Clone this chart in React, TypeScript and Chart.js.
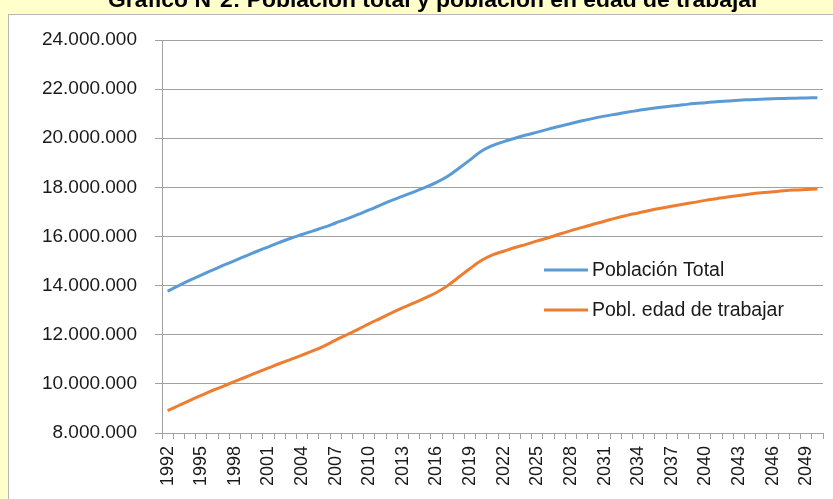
import React, { useEffect, useRef } from "react";
import { Chart, registerables } from "chart.js";

Chart.register(...registerables);

const TITLE = "Gráfico N°2: Población total y población en edad de trabajar";

const years: string[] = [
  "1992", "1993", "1994", "1995", "1996", "1997", "1998", "1999", "2000", "2001",
  "2002", "2003", "2004", "2005", "2006", "2007", "2008", "2009", "2010", "2011",
  "2012", "2013", "2014", "2015", "2016", "2017", "2018", "2019", "2020", "2021",
  "2022", "2023", "2024", "2025", "2026", "2027", "2028", "2029", "2030", "2031",
  "2032", "2033", "2034", "2035", "2036", "2037", "2038", "2039", "2040", "2041",
  "2042", "2043", "2044", "2045", "2046", "2047", "2048", "2049", "2050",
];

// values in millions of people
const poblacionTotal: number[] = [
  13.77, 14.0, 14.22, 14.43, 14.63, 14.83, 15.02, 15.21, 15.4, 15.58,
  15.76, 15.93, 16.08, 16.23, 16.38, 16.55, 16.72, 16.9, 17.08, 17.28,
  17.47, 17.64, 17.82, 18.0, 18.2, 18.45, 18.78, 19.12, 19.47, 19.7,
  19.86, 20.0, 20.13, 20.25, 20.37, 20.49, 20.6, 20.71, 20.81, 20.9,
  20.98, 21.06, 21.13, 21.2, 21.26, 21.31, 21.36, 21.41, 21.45, 21.49,
  21.52, 21.55, 21.57, 21.59, 21.61, 21.62, 21.63, 21.64, 21.65,
];

const poblEdadTrabajar: number[] = [
  8.91, 9.12, 9.33, 9.53, 9.73, 9.91, 10.1, 10.28, 10.47, 10.65,
  10.83, 11.0, 11.17, 11.35, 11.55, 11.78, 12.0, 12.22, 12.45, 12.67,
  12.89, 13.1, 13.3, 13.5, 13.72, 14.0, 14.35, 14.7, 15.02, 15.25,
  15.4, 15.55, 15.68, 15.82, 15.95, 16.1, 16.24, 16.37, 16.5, 16.62,
  16.75, 16.86, 16.96, 17.06, 17.15, 17.23, 17.31, 17.39, 17.47, 17.54,
  17.61, 17.67, 17.73, 17.78, 17.82, 17.86, 17.89, 17.91, 17.93,
];

const seriesNames = ["Población Total", "Pobl. edad de trabajar"];
const seriesColors = ["#5B9BD5", "#ED7D31"];

const yMin = 8000000;
const yMax = 24000000;
const yStep = 2000000;

const FONT = "'Liberation Sans', Arial, sans-serif";

function fmt(v: number): string {
  return Math.round(v).toString().replace(/\B(?=(\d{3})+(?!\d))/g, ".");
}

const framePlugin = {
  id: "frame",
  beforeDraw(chart: any) {
    const ctx = chart.ctx;
    ctx.save();
    ctx.fillStyle = "#FFFFCC";
    ctx.fillRect(0, 0, chart.width, chart.height);
    ctx.fillStyle = "#FFFFFF";
    ctx.fillRect(8, 14, chart.width + 10, chart.height + 10);
    ctx.strokeStyle = "#B8B8B8";
    ctx.lineWidth = 1;
    ctx.strokeRect(8.5, 14.5, chart.width + 10, chart.height + 10);
    // title
    ctx.fillStyle = "#000000";
    let size = 20;
    ctx.font = `bold ${size}px ${FONT}`;
    const w = ctx.measureText(TITLE).width;
    size = size * (652 / w);
    ctx.font = `bold ${size}px ${FONT}`;
    ctx.textAlign = "left";
    ctx.textBaseline = "alphabetic";
    ctx.fillText(TITLE, 108, 7);
    ctx.restore();
  },
};

const legendPlugin = {
  id: "insideLegend",
  afterDatasetsDraw(chart: any) {
    const ctx = chart.ctx;
    ctx.save();
    const rows = [270, 310];
    seriesNames.forEach((name, i) => {
      const y = rows[i];
      ctx.strokeStyle = seriesColors[i];
      ctx.lineWidth = 3;
      ctx.beginPath();
      ctx.moveTo(544, y);
      ctx.lineTo(588, y);
      ctx.stroke();
      ctx.fillStyle = "#1a1a1a";
      ctx.font = `19.5px ${FONT}`;
      ctx.textAlign = "left";
      ctx.textBaseline = "middle";
      ctx.fillText(name, 592, y + 1);
    });
    ctx.restore();
  },
};

export default function App() {
  const ref = useRef<HTMLCanvasElement | null>(null);

  useEffect(() => {
    if (!ref.current) return;
    const chart = new Chart(ref.current, {
      type: "line",
      data: {
        labels: years,
        datasets: [
          {
            label: seriesNames[0],
            data: poblacionTotal.map((v) => v * 1e6),
            borderColor: seriesColors[0],
            backgroundColor: seriesColors[0],
            borderWidth: 3,
            pointRadius: 0,
            tension: 0.4,
            fill: false,
          },
          {
            label: seriesNames[1],
            data: poblEdadTrabajar.map((v) => v * 1e6),
            borderColor: seriesColors[1],
            backgroundColor: seriesColors[1],
            borderWidth: 3,
            pointRadius: 0,
            tension: 0.4,
            fill: false,
          },
        ],
      },
      options: {
        responsive: false,
        animation: false,
        devicePixelRatio: 1,
        layout: { padding: { left: 8, top: 40, right: 10, bottom: 0 } },
        plugins: {
          legend: { display: false },
          title: { display: false },
          tooltip: { enabled: false },
        },
        scales: {
          x: {
            type: "category",
            offset: true,
            grid: {
              offset: true,
              drawOnChartArea: false,
              drawTicks: true,
              tickLength: 6,
              color: "#A0A0A0",
            },
            border: { display: true, color: "#A0A0A0" },
            ticks: {
              autoSkip: false,
              maxRotation: 90,
              minRotation: 90,
              padding: 7,
              color: "#1a1a1a",
              font: { family: FONT, size: 18 },
              callback: (_v: any, i: number) => (i % 3 === 0 ? years[i] : ""),
            },
            afterFit: (s: any) => {
              s.height = 66;
              s.paddingLeft = 0;
              s.paddingRight = 0;
            },
          },
          y: {
            min: yMin,
            max: yMax,
            grid: {
              color: "#A0A0A0",
              drawTicks: true,
              tickLength: 7,
            },
            border: { display: true, color: "#A0A0A0" },
            ticks: {
              stepSize: yStep,
              padding: 18,
              color: "#1a1a1a",
              font: { family: FONT, size: 19 },
              callback: (v: any) => fmt(Number(v)),
            },
            afterFit: (s: any) => {
              s.width = 154;
              s.paddingTop = 0;
              s.paddingBottom = 0;
            },
          },
        },
      },
      plugins: [framePlugin, legendPlugin],
    });
    return () => chart.destroy();
  }, []);

  return (
    <div style={{ position: "fixed", left: 0, top: 0, width: 833, height: 499, overflow: "hidden" }}>
      <canvas ref={ref} width={833} height={499} style={{ display: "block", width: 833, height: 499 }} />
    </div>
  );
}
